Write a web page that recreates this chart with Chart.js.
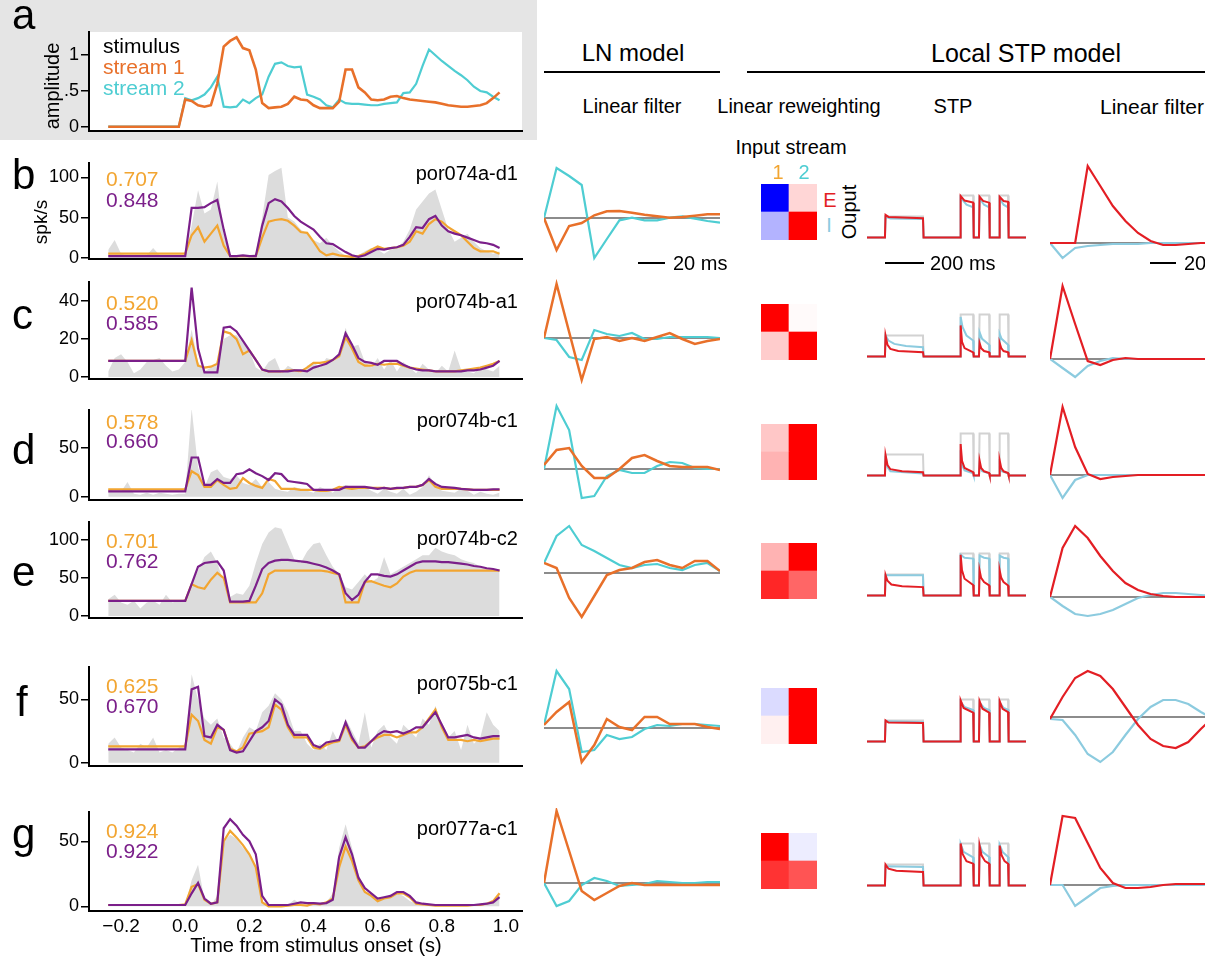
<!DOCTYPE html>
<html><head><meta charset="utf-8">
<script src="https://cdn.jsdelivr.net/npm/chart.js@4.4.1/dist/chart.umd.min.js"></script>
<style>
html,body{margin:0;padding:0;background:#fff;}
#fig{position:relative;width:1205px;height:957px;overflow:hidden;font-family:"Liberation Sans",Arial,Helvetica,sans-serif;background:#fff;}
#fig canvas{position:absolute;}
.t{position:absolute;white-space:nowrap;line-height:1;}
</style></head><body><div id="fig"></div><script>
// ================= DATA =================
const timeS = [-0.24,-0.22,-0.20,-0.18,-0.16,-0.14,-0.12,-0.10,-0.08,-0.06,-0.04,-0.02,
 0.00,0.02,0.04,0.06,0.08,0.10,0.12,0.14,0.16,0.18,0.20,0.22,0.24,0.26,0.28,0.30,0.32,0.34,0.36,0.38,0.40,0.42,0.44,0.46,0.48,
 0.50,0.52,0.54,0.56,0.58,0.60,0.62,0.64,0.66,0.68,0.70,0.72,0.74,0.76,0.78,0.80,0.82,0.84,0.86,0.88,0.90,0.92,0.94,0.96,0.98];
const timeTicks = [-0.2,0.0,0.2,0.4,0.6,0.8,1.0];

// panel a: stimulus envelopes
const stream1 = [0,0,0,0,0,0,0,0,0,0,0,0, 0.38,0.36,0.3,0.28,0.3,0.6, 1.12,1.2,1.25,1.1,1.07,0.8, 0.33,0.26,0.27,0.28,0.32,0.42,
 0.38,0.37,0.3,0.26,0.26,0.26, 0.35,0.8,0.8,0.55,0.48,0.38, 0.37,0.38,0.42,0.43,0.4,0.38, 0.37,0.36,0.35,0.34,0.32,0.3,
 0.29,0.28,0.28,0.29,0.3,0.33, 0.4,0.48];
const stream2 = [0,0,0,0,0,0,0,0,0,0,0,0, 0.4,0.37,0.4,0.45,0.55,0.7, 0.28,0.27,0.28,0.38,0.33,0.4, 0.45,0.7,0.88,0.9,0.85,0.83,
 0.84,0.45,0.42,0.38,0.3,0.27, 0.38,0.33,0.32,0.32,0.31,0.3, 0.3,0.32,0.33,0.34,0.47,0.48, 0.6,0.85,1.08,1.0,0.92,0.85,
 0.78,0.72,0.65,0.56,0.5,0.48, 0.42,0.37];
const ampTicks = [0,0.5,1];

// panels b-g: actual PSTH, LN prediction, local STP prediction (spk/s)
const bActual = [10,22,5,2,3,2,3,12,3,2,3,2, 3,40,84,55,60,95, 30,3,3,3,3,5, 50,103,108,112,50,45, 35,30,22,18,25,15, 8,2,1,3,8,12, 10,5,10,12,20,35, 60,70,80,85,60,35, 20,25,30,20,12,8, 5,8];
const bLN = [5,5,5,5,5,5,5,5,5,5,5,5, 5,28,38,20,30,40, 15,2,2,2,2,2, 25,45,47,48,46,40, 32,31,20,8,3,5, 3,2,1,2,5,10, 14,11,12,13,15,20, 33,30,42,48,45,38, 33,28,20,12,8,8, 8,5];
const bSTP = [2,2,2,2,2,2,2,2,2,2,2,2, 2,62,62,63,68,72, 35,2,2,3,2,2, 40,68,73,70,62,52, 45,40,35,26,18,17, 12,7,3,1,3,7, 11,10,12,13,16,26, 38,37,48,52,40,33, 30,28,25,22,19,18, 16,12];
const bTicks = [0,50,100];

const cActual = [3,10,12,8,2,4,8,9,10,6,3,4, 8,25,8,3,5,8, 20,22,22,18,14,5, 3,8,10,2,6,4, 2,6,8,5,10,9, 12,26,16,17,8,5, 10,4,9,3,8,5, 2,7,4,2,6,3, 14,4,3,2,5,4, 3,6];
const cLN = [8.5,8.5,8.5,8.5,8.5,8.5,8.5,8.5,8.5,8.5,8.5,8.5, 8.5,19.5,6,5,5.5,7, 24,23,20,12,14,9, 4,3,3,3,3.5,3.5, 3,5,7.5,7.5,8,9, 11,21,15,8,6,6, 7,6.5,7,7,6,5, 4.5,4,3.5,3,3,3, 3,3.5,4,4.5,5,6, 7,8.5];
const cSTP = [8.5,8.5,8.5,8.5,8.5,8.5,8.5,8.5,8.5,8.5,8.5,8.5, 8.5,47,15,2.5,2.5,2.5, 26,26.5,24,19,14,9, 4,3,3,3,3,3.5, 3.5,3,5,6,7,9, 12,23,17,10,8,7.5, 6.5,8.5,8.5,8.5,6.5,5, 4,3.5,3.5,3,3,3, 3,3,3.5,3.5,4,5, 6,8.5];
const cTicks = [0,20,40];

const dActual = [8,5,5,15,3,2,4,2,4,3,2,3, 3,90,30,10,25,28, 20,18,22,14,12,18, 10,15,8,6,5,10, 8,6,4,10,7,4, 10,12,10,8,10,6, 3,8,5,3,8,2, 5,10,22,12,6,5, 4,8,6,2,5,3, 2,4];
const dLN = [7.5,7.5,7.5,7.5,7.5,7.5,7.5,7.5,7.5,7.5,7.5,7.5, 7.5,26,22,10,10,17, 12,8,9,19,14,11, 9,18,16,8,8,8, 7,7,7,6,6,7, 10,9,8,9,9,9, 9,9,8,8.5,9,10, 10,12,17,10,8,8, 8,8,7.5,7,7,7, 7,7];
const dSTP = [5.5,5.5,5.5,5.5,5.5,5.5,5.5,5.5,5.5,5.5,5.5,5.5, 5.5,40,40,12,12,18, 14,14,23,24,28,24, 21,17,24,23,16,15, 14,13,7,7,7,7, 7,10,10,10,10,9, 8,9,8,9,9,10, 10,12,18,13,10,9.5, 9,8,7.5,7,7,7, 7.5,7.5];
const dTicks = [0,50];

const eActual = [22,28,18,15,20,10,18,20,15,28,18,20, 22,45,60,78,85,70, 45,25,30,28,40,70, 95,110,117,115,95,75, 70,85,95,97,80,65, 55,38,35,45,55,45, 50,78,55,60,65,70, 75,80,80,90,85,82, 80,75,72,70,65,62, 60,60];
const eLN = [20,20,20,20,20,20,20,20,20,20,20,20, 20,42,38,36,48,57, 50,18,18,18,18,18, 30,55,60,60,60,60, 60,60,60,60,59,57, 55,18,18,18,45,46, 43,40,38,43,52,57, 60,60,60,60,60,60, 60,60,60,60,60,60, 60,60];
const eSTP = [20,20,20,20,20,20,20,20,20,20,20,20, 20,42,65,70,71,72, 60,19,19,19,20,40, 62,70,73,74,74,73, 72,71,69,67,64,60, 55,30,21,28,45,55, 55,53,52,55,60,65, 70,72,72,72,71,71, 70,69,68,66,65,63, 62,60];
const eTicks = [0,50,100];

const fActual = [15,20,12,10,8,15,12,20,8,10,8,12, 15,70,50,35,30,35, 20,15,8,20,28,25, 40,45,55,50,40,25, 25,15,10,15,10,25, 15,35,25,15,40,12, 25,30,20,15,30,25, 20,35,30,45,30,20, 25,10,30,15,20,40, 30,25];
const fLN = [13,13,13,13,13,13,13,13,13,13,13,13, 13,38,33,18,15,28, 26,11,9,12,23,24, 25,28,46,42,28,20, 20,20,12,11,14,16, 17,30,18,12,13,17, 20,22,22,20,22,24, 24,28,35,42,28,18, 18,18,17,18,17,18, 19,19];
const fSTP = [10.5,10.5,10.5,10.5,10.5,10.5,10.5,10.5,10.5,10.5,10.5,10.5, 10.5,58,60,21,20,30, 26,10,8,9,17,25, 28,33,50,46,30,22, 22,22,14,12,16,17, 18,32,20,12,12,17, 22,25,24,25,23,25, 28,28,34,40,30,20, 20,21,22,20,19,20, 21,21];
const fTicks = [0,50];

const gActual = [1,1,1.5,1,1,1,1,1,1,1,1,1, 1,20,32,5,1,8, 50,55,52,45,40,30, 4,1,1,1,1,5, 2,1,1,2,3,10, 45,63,45,25,12,8, 4,6,7,10,8,4, 2,1,1,1,1,1, 1,1,1,1,1,2, 3,9];
const gLN = [1,1,1,1,1,1,1,1,1,1,1,1, 1.5,15,17,5,2,3, 50,58,53,47,40,30, 3,0,0,0,0.5,1, 1,0.5,2,1.5,3,6, 30,46,35,20,11,8, 4,6,7,10,10,7, 2,1.5,1,0.5,0.5,0.5, 0.5,0.5,0.5,1,1,2, 4,10];
const gSTP = [1,1,1,1,1,1,1,1,1,1,1,1, 1,10,18,6,2,3, 60,67,62,55,50,40, 8,1,1,1,1,2, 3,2.5,2.5,2,2.5,5, 38,53,40,22,14,10, 6,7,8,11,11,8, 3,2,1.5,1,1,1, 1,1,1,1,1.5,2, 3,7];
const gTicks = [0,50];

const cellNames = ['por074a-d1','por074b-a1','por074b-c1','por074b-c2','por075b-c1','por077a-c1'];
const lnScores  = ['0.707','0.520','0.578','0.701','0.625','0.924'];
const stpScores = ['0.848','0.585','0.660','0.762','0.670','0.922'];

// LN model linear filters (15 taps, 10 ms apart), stream 1 / stream 2, a.u.
const filterTapsMs = [0,10,20,30,40,50,60,70,80,90,100,110,120,130,140];
const lnB1 = [0,-32,-8,-5,2.7,6.7,7,5.3,3.3,1.7,0.3,1,2.3,3.7,3.7];
const lnB2 = [0,50,42,33,-40,-21,-2.3,0.3,-2.3,-2.3,0.3,1.7,-0.7,-3,-4.7];
const lnC1 = [0,54,6,-42,-1,1,-3,0,-3,1,5,-1,-6,-3,-1];
const lnC2 = [0,-2,-19,-22,8,4,2,5,-1,-1,1,1,1,1,0];
const lnD1 = [4,19,21,3,-9,-9,0,11,14,8,3,2,2,2,-1];
const lnD2 = [0,63,39,-29,-27,-7,-1,-4,-4,3,7,6,1,0,0];
const lnE1 = [10,5,-25,-44,-23,-2,3,5,11,13,8,5,12,12,2];
const lnE2 = [10,37,47,28,22,15,8,5,8,9,5,3,8,10,2];
const lnF1 = [3,16,26,-34,-17,9,1,-2,11,11,4,4,4,1,-1];
const lnF2 = [3,57,39,-24,-22,-7,-11,-9,-1,3,2,4,4,3,2];
const lnG1 = [0,72,32,-8,-17,-10,-3,0,-2,-2,-2,-2,-2,-2,-2];
const lnG2 = [0,-23,-18,-2,5,2,-3,-2,-1,2,1,0,0,1,1];

// linear reweighting (rows: output E / I ; columns: input stream 1, 2)
const inputStreams = ['1','2'];
const wB_E = [-1.0,0.16], wB_I = [-0.3,1.0];
const wC_E = [1.0,0.02],  wC_I = [0.2,1.0];
const wD_E = [0.22,1.0],  wD_I = [0.3,1.0];
const wE_E = [0.3,1.0],   wE_I = [0.85,0.6];
const wF_E = [-0.14,1.0], wF_I = [0.06,1.0];
const wG_E = [1.0,-0.07], wG_I = [0.8,0.67];

// STP: test input and responses, [time ms, relative amplitude]
const stpInput = [[0,0],[92,0],[95,0.5],[287,0.5],[290,0],[477,0],[480,1],[544,1],[547,0],[574,0],[577,1],[626,1],[629,0],[677,0],[680,1],[723,1],[726,0],[815,0]];
const stpB_E = [[0,0],[92,0],[95,0.54],[110,0.49],[287,0.46],[290,0],[477,0],[480,0.99],[500,0.88],[544,0.83],[547,0],[574,0],[577,0.97],[595,0.87],[626,0.83],[629,0],[677,0],[680,0.97],[700,0.87],[723,0.85],[726,0],[815,0]];
const stpB_I = [[0,0],[92,0],[95,0.5],[120,0.45],[287,0.44],[290,0],[477,0],[480,0.95],[510,0.78],[544,0.72],[547,0],[574,0],[577,0.93],[600,0.78],[626,0.72],[629,0],[677,0],[680,0.93],[700,0.78],[723,0.72],[726,0],[815,0]];
const stpC_E = [[0,0],[92,0],[95,0.5],[105,0.28],[120,0.18],[160,0.13],[287,0.1],[290,0],[477,0],[480,0.74],[487,0.35],[500,0.2],[544,0.1],[547,0],[574,0],[577,0.32],[585,0.2],[600,0.13],[626,0.1],[629,0],[677,0],[680,0.32],[688,0.2],[700,0.13],[723,0.1],[726,0],[815,0]];
const stpC_I = [[0,0],[92,0],[95,0.5],[110,0.38],[140,0.3],[200,0.25],[287,0.22],[290,0],[477,0],[480,0.94],[490,0.7],[510,0.5],[544,0.38],[547,0],[574,0],[577,0.58],[590,0.42],[626,0.28],[629,0],[677,0],[680,0.54],[690,0.42],[723,0.28],[726,0],[815,0]];
const stpD_E = [[0,0],[92,0],[95,0.49],[105,0.25],[120,0.15],[180,0.1],[287,0.08],[290,0],[477,0],[480,0.75],[487,0.35],[500,0.18],[544,0.08],[547,0],[574,0],[577,0.36],[585,0.18],[600,0.1],[626,0.06],[629,0],[677,0],[680,0.36],[688,0.18],[700,0.1],[723,0.06],[726,0],[815,0]];
const stpD_I = [[0,0],[92,0],[95,0.47],[105,0.2],[120,0.1],[287,0.05],[290,0],[477,0],[480,0.6],[487,0.25],[500,0.12],[544,0.05],[547,0],[574,0],[577,0.25],[590,0.1],[626,0.05],[629,0],[677,0],[680,0.25],[690,0.1],[723,0.05],[726,0],[815,0]];
const stpE_E = [[0,0],[92,0],[95,0.49],[105,0.35],[125,0.26],[180,0.22],[287,0.2],[290,0],[477,0],[480,0.97],[487,0.6],[500,0.4],[544,0.25],[547,0],[574,0],[577,0.6],[585,0.42],[600,0.32],[626,0.24],[629,0],[677,0],[680,0.6],[688,0.42],[700,0.32],[723,0.24],[726,0],[815,0]];
const stpE_I = [[0,0],[92,0],[95,0.48],[287,0.48],[290,0],[477,0],[480,0.97],[500,0.9],[544,0.88],[547,0],[574,0],[577,0.95],[600,0.9],[626,0.88],[629,0],[677,0],[680,0.95],[700,0.9],[723,0.88],[726,0],[815,0]];
const stpF_E = [[0,0],[92,0],[95,0.5],[110,0.45],[287,0.44],[290,0],[477,0],[480,0.98],[495,0.8],[544,0.69],[547,0],[574,0],[577,0.96],[592,0.78],[626,0.69],[629,0],[677,0],[680,0.96],[695,0.78],[723,0.7],[726,0],[815,0]];
const stpF_I = [[0,0],[92,0],[95,0.48],[287,0.46],[290,0],[477,0],[480,0.95],[500,0.82],[544,0.75],[547,0],[574,0],[577,0.93],[600,0.8],[626,0.75],[629,0],[677,0],[680,0.93],[700,0.8],[723,0.76],[726,0],[815,0]];
const stpG_E = [[0,0],[92,0],[95,0.5],[110,0.4],[150,0.35],[287,0.32],[290,0],[477,0],[480,1.0],[490,0.75],[510,0.58],[544,0.52],[547,0],[574,0],[577,0.95],[587,0.72],[605,0.58],[626,0.52],[629,0],[677,0],[680,0.95],[690,0.72],[705,0.58],[723,0.52],[726,0],[815,0]];
const stpG_I = [[0,0],[92,0],[95,0.46],[287,0.44],[290,0],[477,0],[480,0.99],[495,0.8],[544,0.67],[547,0],[574,0],[577,0.97],[592,0.8],[626,0.68],[629,0],[677,0],[680,0.97],[695,0.8],[723,0.68],[726,0],[815,0]];

// local STP model linear filters (E red / I blue), a.u.
const sfB_E = [0,0,0,77,57,37,22,10,2,-2,-2,-1,0,0,0];
const sfB_I = [0,-15,-5,-3,-2,-1,-1,-1,0,0,0,0,0,0,0];
const sfC_E = [0,73,35,-2,-6,-1,1,0,0,0,0,0,0,0,0];
const sfC_I = [0,-9,-18,-7,-2,1,0,0,0,0,0,0,0,0,0];
const sfD_E = [0,68,28,1,-4,-2,-1,0,0,0,0,0,0,0,0];
const sfD_I = [0,-23,-5,0,0,0,0,0,0,0,0,0,0,0,0];
const sfE_E = [0,49,71,59,41,26,14,7,3,1,0,0,0,0,0];
const sfE_I = [0,-9,-17,-19,-17,-13,-7,-1,2,4,4,3,2,1,0];
const sfF_E = [-2,20,39,46,41,28,10,-8,-22,-29,-31,-25,-12,0,10];
const sfF_I = [-2,-3,-18,-37,-45,-35,-18,-2,10,17,17,13,5,-2,-8];
const sfG_E = [0,69,67,42,17,2,-3,-3,-2,0,1,1,1,1,1];
const sfG_I = [0,0,-21,-12,-3,-1,0,0,0,0,0,0,0,0,0];

// ================= STYLE / LAYOUT =================
const COL = {fill:'#dcdcdc', ln:'#f2a531', stp:'#7b1f8a', s1:'#e8702a', s2:'#4ecdd2', red:'#e31e24', blue:'#8ccbdf', zero:'#8c8c8c', input:'#d2d2d2', gbox:'#e5e5e5'};
const FONT = '"Liberation Sans", Arial, Helvetica, sans-serif';
Chart.defaults.font.family = FONT;
Chart.defaults.color = '#000';

const fig = document.getElementById('fig');
function addCanvas(l,t,w,h){
  const c=document.createElement('canvas');
  c.width=w; c.height=h;
  c.style.left=l+'px'; c.style.top=t+'px'; c.style.width=w+'px'; c.style.height=h+'px';
  fig.appendChild(c); return c;
}
function addText(s,x,y,o){
  const d=document.createElement('div'); d.className='t'; d.textContent=s;
  d.style.fontSize=o.size+'px'; d.style.color=o.color||'#000';
  d.style.left=x+'px'; d.style.top=y+'px';
  const tx = o.align==='center'?'-50%':(o.align==='right'?'-100%':'0');
  d.style.transform='translate('+tx+',-50%)'+(o.rot?' rotate('+o.rot+'deg)':'');
  fig.appendChild(d); return d;
}
function addBox(l,t,w,h,color){
  const d=document.createElement('div'); d.style.position='absolute';
  d.style.left=l+'px'; d.style.top=t+'px'; d.style.width=w+'px'; d.style.height=h+'px'; d.style.background=color;
  fig.appendChild(d); return d;
}
const baseOpts = () => ({responsive:false, animation:false, events:[], plugins:{legend:{display:false}, tooltip:{enabled:false}}});
const pts = (xs, ys) => xs.map((x,i)=>({x:x, y:ys[i]}));
const pairs = (arr) => arr.map(p=>({x:p[0], y:p[1]}));

const zeroLine = {id:'zeroLine', beforeDatasetsDraw(chart, args, o){
  const y = chart.scales.y.getPixelForValue(0); const a = chart.chartArea; const ctx = chart.ctx;
  ctx.save(); ctx.strokeStyle=o.color; ctx.lineWidth=o.width; ctx.beginPath(); ctx.moveTo(a.left,y); ctx.lineTo(a.right,y); ctx.stroke(); ctx.restore();
}};
const whiteArea = {id:'whiteArea', beforeDraw(chart){
  const a = chart.chartArea, ctx = chart.ctx; ctx.save(); ctx.fillStyle='#fff'; ctx.fillRect(a.left, a.top, a.right-a.left, a.bottom-a.top); ctx.restore();
}};

// ---- gray box for panel a
addBox(0,0,537,140,COL.gbox);

// ---- PSTH style panels
function psthChart(cfg){
  const padTop = 14, xH = cfg.xAxis ? 46 : 0, padBottom = cfg.xAxis ? 0 : 16;
  const h = cfg.bottom - cfg.top + padTop + xH + padBottom;
  const c = addCanvas(0, cfg.top - padTop, 532, h);
  const yTicksVals = cfg.yTicks;
  new Chart(c, {type:'line', data:{datasets:cfg.datasets}, plugins: cfg.white ? [whiteArea] : [],
    options: Object.assign(baseOpts(), {
      layout:{padding:{top:padTop, right:10, left:0, bottom:padBottom}},
      scales:{
        x:{type:'linear', min:-0.3, max:1.05,
           afterFit:(s)=>{ s.height = xH; },
           afterBuildTicks:(s)=>{ s.ticks = timeTicks.map(v=>({value:v})); },
           grid:{display:false, drawTicks:false, tickLength:0},
           border:{display:true, color:'#000', width:2},
           ticks:{display:!!cfg.xAxis, autoSkip:false, maxRotation:0, padding:4, font:{size:19},
                  callback:(v)=> v<0 ? '\u2212'+Math.abs(v).toFixed(1) : v.toFixed(1)},
           title:{display:false}
        },
        y:{min:cfg.ymin, max:cfg.ymax,
           afterFit:(s)=>{ s.width = 89; },
           afterBuildTicks:(s)=>{ s.ticks = yTicksVals.map(v=>({value:v})); },
           grid:{display:true, drawOnChartArea:false, drawTicks:true, tickLength:8, color:'#000', lineWidth:1.5},
           border:{display:true, color:'#000', width:2},
           ticks:{autoSkip:false, padding:2, font:{size:18}, callback:cfg.yFmt || ((v)=>String(v))},
           title:{display:false}
        }
      }
    })
  });
}
function psthSets(actual, ln, stp){
  return [
    {data:pts(timeS, actual), fill:'origin', backgroundColor:COL.fill, borderWidth:0, pointRadius:0, order:3, tension:0},
    {data:pts(timeS, ln), fill:false, borderColor:COL.ln, borderWidth:2.2, pointRadius:0, order:2, tension:0},
    {data:pts(timeS, stp), fill:false, borderColor:COL.stp, borderWidth:2.2, pointRadius:0, order:1, tension:0}
  ];
}

// panel a
psthChart({top:32, bottom:131, ymin:-0.06, ymax:1.325, yTicks:ampTicks, white:true,
  yFmt:(v)=> v===0.5 ? '.5' : String(v),
  datasets:[
    {data:pts(timeS, stream1), fill:false, borderColor:COL.s1, borderWidth:2.6, pointRadius:0, order:1, tension:0},
    {data:pts(timeS, stream2), fill:false, borderColor:COL.s2, borderWidth:2.2, pointRadius:0, order:2, tension:0}
  ]});

const psthPanels = [
  {top:163, bottom:259, ymin:-1.6, ymax:118, yTicks:bTicks, sets:[bActual,bLN,bSTP]},
  {top:282, bottom:379, ymin:-1.0, ymax:50,  yTicks:cTicks, sets:[cActual,cLN,cSTP]},
  {top:410, bottom:500, ymin:-3.4, ymax:88.5, yTicks:dTicks, sets:[dActual,dLN,dSTP]},
  {top:522, bottom:618, ymin:-2.6, ymax:124, yTicks:eTicks, sets:[eActual,eLN,eSTP]},
  {top:667, bottom:766, ymin:-2.6, ymax:75.7, yTicks:fTicks, sets:[fActual,fLN,fSTP]},
  {top:812, bottom:911, ymin:-3.6, ymax:72.5, yTicks:gTicks, sets:[gActual,gLN,gSTP], xAxis:true}
];
psthPanels.forEach(p=>{
  psthChart({top:p.top, bottom:p.bottom, ymin:p.ymin, ymax:p.ymax, yTicks:p.yTicks, xAxis:p.xAxis,
    datasets:psthSets(p.sets[0],p.sets[1],p.sets[2])});
});

// ---- right-hand columns
const rowPos = [
  {ln:218, heat:184, stp:237, sf:243},
  {ln:338, heat:304, stp:356, sf:359},
  {ln:469, heat:424, stp:475, sf:475},
  {ln:573, heat:543, stp:595, sf:597},
  {ln:728, heat:688, stp:741, sf:717},
  {ln:883, heat:833, stp:885, sf:885}
];
const lnFilters = [[lnB1,lnB2],[lnC1,lnC2],[lnD1,lnD2],[lnE1,lnE2],[lnF1,lnF2],[lnG1,lnG2]];
const weights = [[wB_E,wB_I],[wC_E,wC_I],[wD_E,wD_I],[wE_E,wE_I],[wF_E,wF_I],[wG_E,wG_I]];
const stpResp = [[stpB_E,stpB_I],[stpC_E,stpC_I],[stpD_E,stpD_I],[stpE_E,stpE_I],[stpF_E,stpF_I],[stpG_E,stpG_I]];
const stpFilters = [[sfB_E,sfB_I],[sfC_E,sfC_I],[sfD_E,sfD_I],[sfE_E,sfE_I],[sfF_E,sfF_I],[sfG_E,sfG_I]];

function filterChart(left, zeroY, half, top1, under, c1, c2, w1, w2){
  const c = addCanvas(left, zeroY-half, 176, half*2);
  new Chart(c, {type:'line', data:{labels:filterTapsMs, datasets:[
      {data:top1, borderColor:c1, borderWidth:w1, pointRadius:0, fill:false, clip:false, order:1, tension:0},
      {data:under, borderColor:c2, borderWidth:w2, pointRadius:0, fill:false, clip:false, order:2, tension:0}
    ]}, plugins:[zeroLine],
    options: Object.assign(baseOpts(), {layout:{padding:0},
      plugins:{legend:{display:false}, tooltip:{enabled:false}, zeroLine:{color:COL.zero, width:2}},
      scales:{x:{display:false, offset:false}, y:{display:false, min:-half, max:half}}})
  });
}
function wColor(v){
  v = Math.max(-1, Math.min(1, v));
  if (v >= 0) { const c = Math.round(255*(1-v)); return 'rgb(255,'+c+','+c+')'; }
  const c = Math.round(255*(1+v)); return 'rgb('+c+','+c+',255)';
}
function heatChart(left, top, wE, wI){
  const c = addCanvas(left, top, 56, 56);
  new Chart(c, {type:'bar', data:{labels:inputStreams, datasets:[
      {label:'I', data:[1,1], backgroundColor:wI.map(wColor), borderWidth:0, barPercentage:1, categoryPercentage:1},
      {label:'E', data:[1,1], backgroundColor:wE.map(wColor), borderWidth:0, barPercentage:1, categoryPercentage:1}
    ]},
    options: Object.assign(baseOpts(), {layout:{padding:0},
      scales:{x:{stacked:true, display:false}, y:{stacked:true, display:false, min:0, max:2}}})
  });
}
function stpChart(left, base, eTrace, iTrace){
  const c = addCanvas(left, Math.round(base - 1.25*42), 159, Math.round(1.5*42));
  new Chart(c, {type:'line', data:{datasets:[
      {data:pairs(eTrace), borderColor:COL.red, borderWidth:2, pointRadius:0, fill:false, clip:false, order:1, tension:0},
      {data:pairs(iTrace), borderColor:COL.blue, borderWidth:2, pointRadius:0, fill:false, clip:false, order:2, tension:0},
      {data:pairs(stpInput), borderColor:COL.input, borderWidth:2, pointRadius:0, fill:false, clip:false, order:3, tension:0}
    ]},
    options: Object.assign(baseOpts(), {layout:{padding:0},
      scales:{x:{type:'linear', display:false, min:0, max:815}, y:{display:false, min:-0.25, max:1.25}}})
  });
}

rowPos.forEach((r,i)=>{
  filterChart(544, r.ln, 75, lnFilters[i][0], lnFilters[i][1], COL.s1, COL.s2, 2.5, 2.2);
  heatChart(761, r.heat, weights[i][0], weights[i][1]);
  stpChart(867, r.stp, stpResp[i][0], stpResp[i][1]);
  filterChart(1050, r.sf, 85, stpFilters[i][0], stpFilters[i][1], COL.red, COL.blue, 2.2, 2.2);
});

// ================= TEXT =================
function letter(s, x, baseline){ const d = addText(s, x, 0, {size:42}); d.style.transform='none'; d.style.top=(baseline-0.8465*42)+'px'; }
letter('a',12,30); letter('b',12,190); letter('c',12,330); letter('d',12,465); letter('e',12,587); letter('f',16,717); letter('g',12,849);

// axis titles
addText('amplitude',52,86,{size:20,align:'center',rot:-90});
addText('spk/s',40,222,{size:19,align:'center',rot:-90});
addText('Time from stimulus onset (s)',316,945,{size:20,align:'center'});

// panel a legend
addText('stimulus',103,45,{size:21});
addText('stream 1',103,66,{size:21,color:COL.s1});
addText('stream 2',103,87,{size:21,color:COL.s2});

// scores and cell names
const scoreY = [[178,199],[302,322],[421,440],[540,560],[685,705],[830,850]];
const nameY = [173,301,420,538,683,828];
for (let i=0;i<6;i++){
  addText(lnScores[i],106,scoreY[i][0],{size:21,color:COL.ln});
  addText(stpScores[i],106,scoreY[i][1],{size:21,color:COL.stp});
  addText(cellNames[i],518,nameY[i],{size:20,align:'right'});
}

// headers
addText('LN model',633,53,{size:24,align:'center'});
addBox(544,71,176,2,'#000');
addText('Local STP model',1026,53,{size:25,align:'center'});
addBox(747,71,470,2,'#000');
addText('Linear filter',632,106,{size:20,align:'center'});
addText('Linear reweighting',799,106,{size:20,align:'center'});
addText('STP',953,106,{size:20,align:'center'});
addText('Linear filter',1100,106,{size:21});
addText('Input stream',791,147,{size:20,align:'center'});
addText('1',778,172,{size:20,align:'center',color:COL.ln});
addText('2',804,172,{size:20,align:'center',color:COL.s2});
addText('E',830,200,{size:20,align:'center',color:COL.red});
addText('I',829,225,{size:20,align:'center',color:COL.blue});
addText('Ouput',849,212,{size:20,align:'center',rot:-90});

// scale bars
addBox(638,262,27,2,'#000'); addText('20 ms',673,263,{size:20});
addBox(885,262,39,2,'#000'); addText('200 ms',930,263,{size:20});
addBox(1150,262,26,2,'#000'); addText('20 ms',1184,263,{size:20});
</script></body></html>
